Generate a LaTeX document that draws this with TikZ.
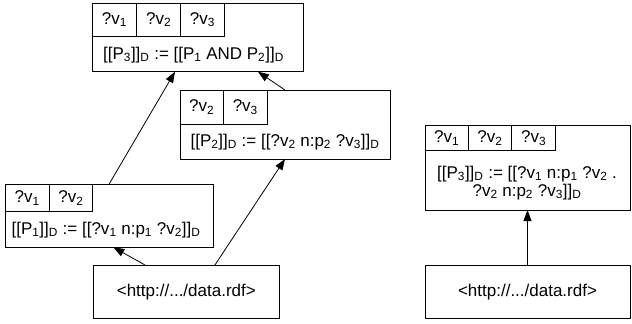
\documentclass[tikz,border=0pt]{standalone}
\usepackage{fontspec}
\setmainfont{Liberation Sans}
\usetikzlibrary{arrows.meta,calc}
\tikzset{
  box/.style={draw, line width=0.8pt, inner sep=0pt, outer sep=0pt, anchor=north west, font=\fontsize{17}{18}\selectfont},
  txt/.style={inner sep=0pt, font=\fontsize{17}{18}\selectfont, align=center},
  arr/.style={-{Triangle[length=11pt,width=8pt]}, line width=0.8pt},
}
\begin{document}
\begin{tikzpicture}[x=1pt,y=-1pt]
\useasboundingbox (0,0) rectangle (632,324);
% top box
\node[box, minimum width=211pt, minimum height=68.7pt] (T) at (92.3,3) {};
\node[box, minimum width=44.4pt, minimum height=33pt] (T1) at (T.north west) {?v\textsubscript{1}};
\node[box, minimum width=44pt, minimum height=33pt] (T2) at (T1.north east) {?v\textsubscript{2}};
\node[box, minimum width=43.6pt, minimum height=33pt] (T3) at (T2.north east) {?v\textsubscript{3}};
\node[txt] (Tt) at (193.5,55) {[[P\textsubscript{3}]]\textsubscript{D} := [[P\textsubscript{1} AND P\textsubscript{2}]]\textsubscript{D}};
% P2 box
\node[box, minimum width=210pt, minimum height=69pt] (P2) at (180,90) {};
\node[box, minimum width=43.3pt, minimum height=34.3pt] (P2a) at (P2.north west) {?v\textsubscript{2}};
\node[box, minimum width=44pt, minimum height=34.3pt] (P2b) at (P2a.north east) {?v\textsubscript{3}};
\node[txt] (P2t) at (285,142) {[[P\textsubscript{2}]]\textsubscript{D} := [[?v\textsubscript{2} n:p\textsubscript{2} ?v\textsubscript{3}]]\textsubscript{D}};
% P1 box
\node[box, minimum width=208.3pt, minimum height=63.3pt] (P1) at (5,184) {};
\node[box, minimum width=44.3pt, minimum height=27.7pt] (P1a) at (P1.north west) {?v\textsubscript{1}};
\node[box, minimum width=43.4pt, minimum height=27.7pt] (P1b) at (P1a.north east) {?v\textsubscript{2}};
\node[txt] (P1t) at (106,230) {[[P\textsubscript{1}]]\textsubscript{D} := [[?v\textsubscript{1} n:p\textsubscript{1} ?v\textsubscript{2}]]\textsubscript{D}};
% data box left
\node[box, minimum width=186pt, minimum height=53.3pt] (D1) at (93.3,265) {};
\node[txt] (D1t) at (D1.center) {<http://.../data.rdf>};
% right box
\node[box, minimum width=205pt, minimum height=85pt] (R) at (425,125) {};
\node[box, minimum width=43.3pt, minimum height=25.7pt] (R1) at (R.north west) {?v\textsubscript{1}};
\node[box, minimum width=43.4pt, minimum height=25.7pt] (R2) at (R1.north east) {?v\textsubscript{2}};
\node[box, minimum width=44pt, minimum height=25.7pt] (R3) at (R2.north east) {?v\textsubscript{3}};
\node[txt] (Rt) at (527,183) {[[P\textsubscript{3}]]\textsubscript{D} := [[?v\textsubscript{1} n:p\textsubscript{1} ?v\textsubscript{2} .\\ ?v\textsubscript{2} n:p\textsubscript{2} ?v\textsubscript{3}]]\textsubscript{D}};
% data box right
\node[box, minimum width=205pt, minimum height=53.3pt] (D2) at (425,265) {};
\node[txt] (D2t) at (D2.center) {<http://.../data.rdf>};
% arrows
\draw[arr] (P1.north) -- ($(T.south west)!0.392!(T.south east)$);
\draw[arr] (P2.north) -- ($(T.south west)!0.785!(T.south east)$);
\draw[arr] ($(D1.north west)!0.278!(D1.north east)$) -- ($(P1.south west)!0.52!(P1.south east)$);
\draw[arr] ($(D1.north west)!0.654!(D1.north east)$) -- (P2.south);
\draw[arr] (D2.north) -- (R.south);
\end{tikzpicture}
\end{document}
